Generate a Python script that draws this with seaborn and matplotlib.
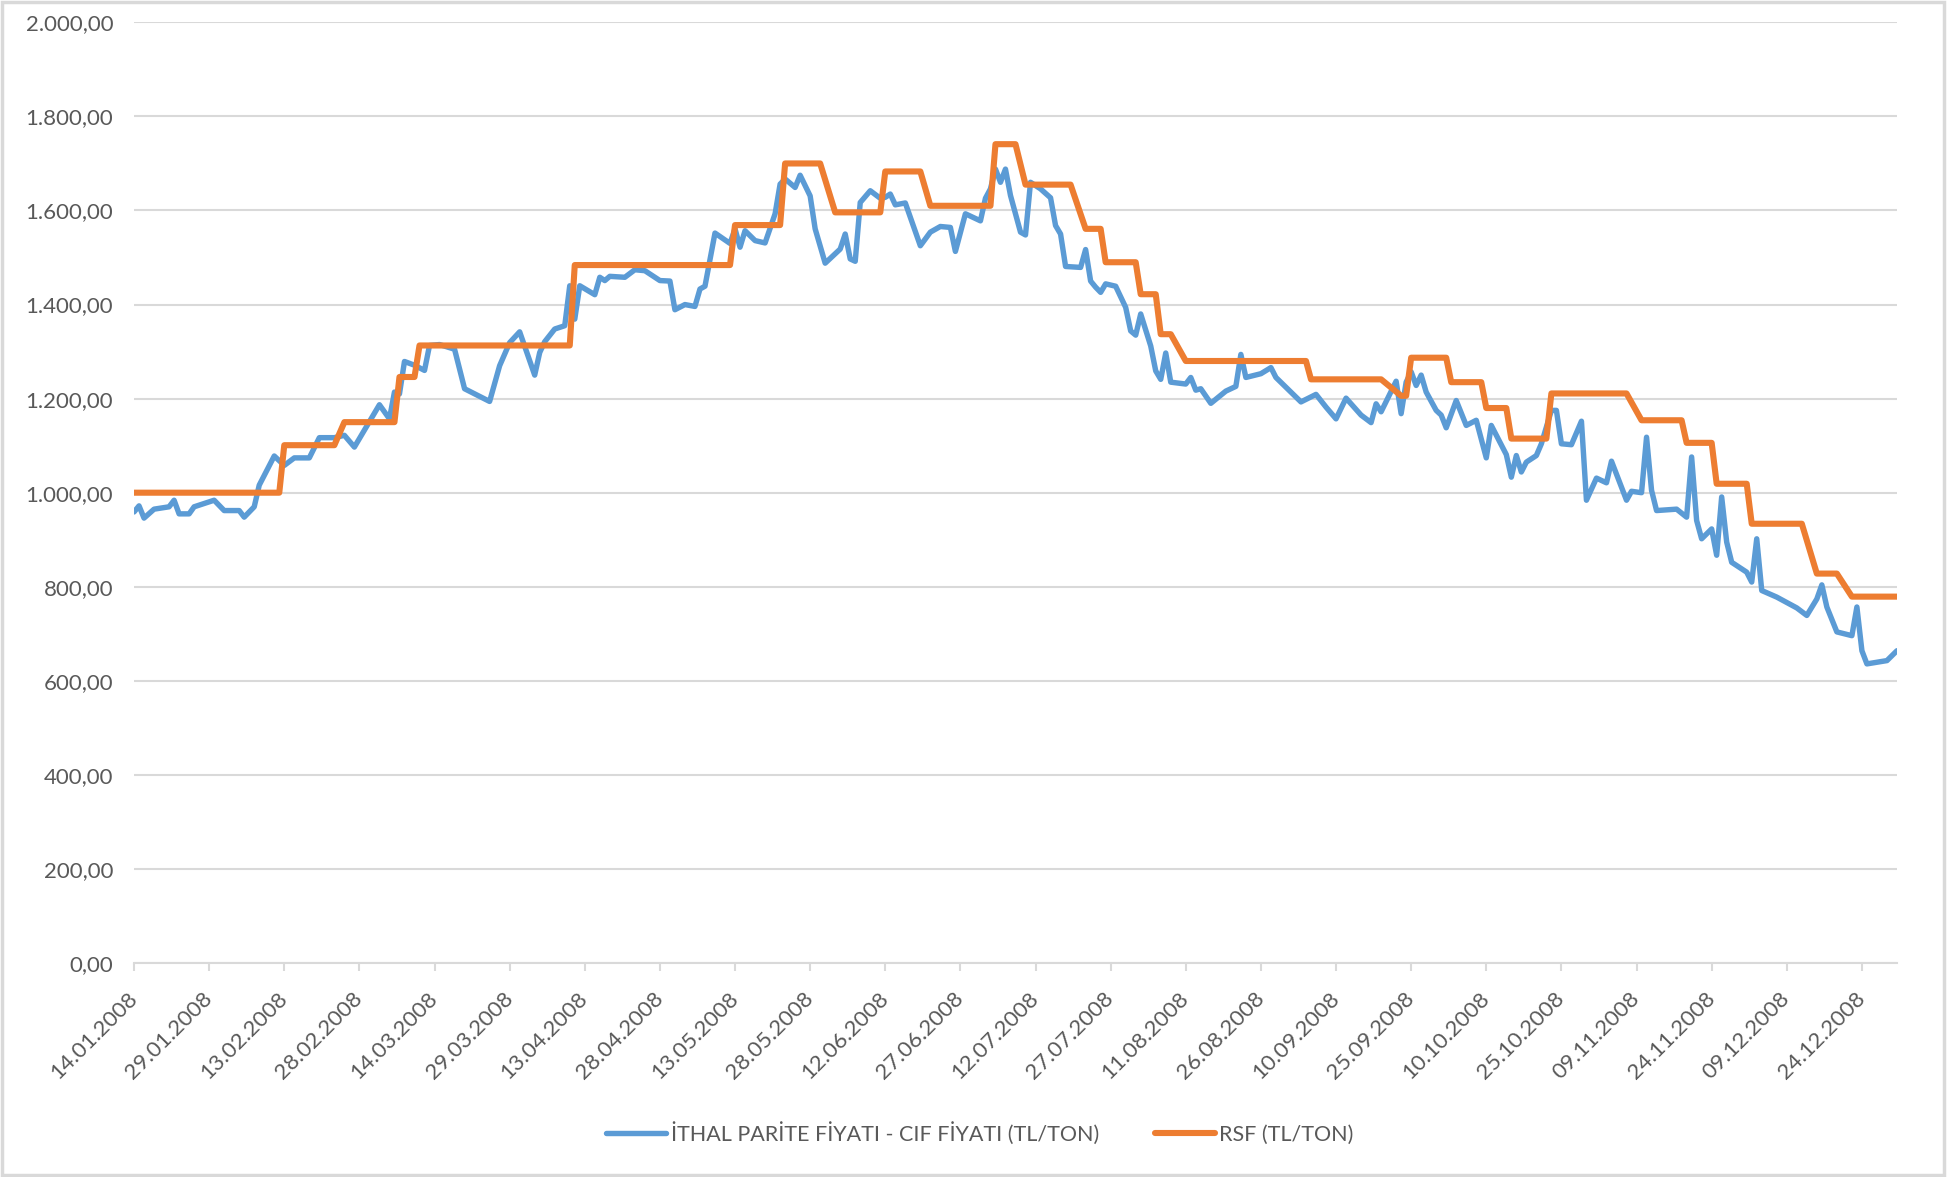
import pandas as pd
import matplotlib.pyplot as plt
import matplotlib.dates as mdates
import matplotlib.ticker as mticker
import seaborn as sns

start_date = '2008-01-14'
end_date = '2008-12-31'

cif_days = [0, 1, 2, 4, 7, 8, 9, 11, 12, 14, 16, 18, 21, 22, 24, 25, 28, 30, 32, 35,
            37, 40, 42, 44, 46, 49, 51, 52, 53, 54, 56, 58, 59, 61, 64, 66, 71, 73, 75, 77,
            80, 81, 82, 84, 86, 87, 88, 89, 92, 93, 94, 95, 98, 100, 102, 105, 107, 108, 110, 112,
            113, 114, 116, 119, 120, 121, 122, 124, 126, 128, 129, 130, 132, 133, 135, 136, 138, 141, 142, 143,
            144, 145, 147, 149, 150, 151, 152, 154, 157, 159, 161, 163, 164, 166, 169, 170, 171, 172, 173, 174,
            175, 177, 178, 179, 181, 183, 184, 185, 186, 189, 190, 191, 192, 193, 194, 196, 198, 199, 200, 201,
            203, 204, 205, 206, 207, 210, 211, 212, 213, 215, 218, 220, 221, 222, 225, 227, 228, 233, 236, 238,
            240, 242, 245, 247, 248, 249, 252, 253, 254, 255, 256, 257, 258, 260, 261, 262, 264, 266, 268, 270,
            271, 274, 275, 276, 277, 278, 280, 281, 283, 284, 285, 287, 289, 290, 292, 294, 295, 298, 299, 301,
            302, 303, 304, 308, 310, 311, 312, 313, 315, 316, 317, 318, 319, 322, 323, 324, 325, 328, 332, 334,
            336, 337, 338, 340, 343, 344, 345, 346, 350, 352]
cif_values = [959, 972, 946, 965, 970, 984, 955, 955, 970, 977, 984, 962, 962, 948, 970, 1016, 1078, 1058, 1074, 1074,
              1117, 1117, 1122, 1097, 1133, 1187, 1157, 1214, 1210, 1279, 1271, 1260, 1313, 1315, 1305, 1221, 1194, 1270, 1319, 1342,
              1250, 1298, 1321, 1348, 1355, 1440, 1369, 1440, 1421, 1458, 1451, 1460, 1458, 1474, 1472, 1451, 1450, 1389, 1400, 1396,
              1433, 1439, 1552, 1530, 1561, 1522, 1557, 1536, 1531, 1593, 1656, 1667, 1649, 1675, 1631, 1561, 1488, 1518, 1550, 1497,
              1492, 1617, 1642, 1626, 1628, 1635, 1612, 1616, 1525, 1554, 1566, 1564, 1513, 1593, 1578, 1626, 1646, 1688, 1660, 1688,
              1632, 1554, 1548, 1660, 1646, 1627, 1568, 1550, 1481, 1479, 1517, 1450, 1437, 1426, 1444, 1439, 1394, 1344, 1335, 1380,
              1312, 1259, 1241, 1297, 1235, 1231, 1245, 1218, 1221, 1190, 1216, 1226, 1294, 1245, 1253, 1266, 1245, 1193, 1209, 1182,
              1157, 1201, 1165, 1149, 1189, 1172, 1237, 1168, 1235, 1257, 1228, 1250, 1214, 1175, 1165, 1138, 1196, 1143, 1154, 1074,
              1143, 1081, 1033, 1079, 1044, 1065, 1079, 1104, 1175, 1175, 1104, 1102, 1152, 984, 1031, 1021, 1067, 984, 1003, 1000,
              1118, 1005, 962, 965, 948, 1076, 941, 902, 923, 867, 991, 895, 852, 831, 810, 902, 792, 778, 755, 739,
              774, 804, 757, 704, 696, 757, 664, 636, 643, 664]

rsf_days = [0, 29, 30, 40, 42, 52, 53, 56, 57, 87, 88, 119, 120, 129, 130, 137, 140, 149, 150, 157,
            159, 171, 172, 176, 178, 187, 190, 193, 194, 200, 201, 204, 205, 207, 210, 234, 235, 249, 253, 254,
            255, 262, 263, 269, 270, 274, 275, 282, 283, 298, 301, 309, 310, 315, 316, 322, 323, 333, 336, 340,
            343, 352]
rsf_values = [1000, 1000, 1101, 1101, 1150, 1150, 1246, 1246, 1313, 1313, 1484, 1484, 1569, 1569, 1700, 1700, 1596, 1596, 1683, 1683,
              1610, 1610, 1741, 1741, 1655, 1655, 1561, 1561, 1490, 1490, 1422, 1422, 1337, 1337, 1280, 1280, 1241, 1241, 1206, 1206,
              1287, 1287, 1235, 1235, 1180, 1180, 1115, 1115, 1211, 1211, 1154, 1154, 1106, 1106, 1019, 1019, 934, 934, 828, 828,
              779, 779]

cif_label = 'İTHAL PARİTE FİYATI - CIF FİYATI (TL/TON)'
rsf_label = 'RSF (TL/TON)'

t0 = pd.Timestamp(start_date)
cif = pd.DataFrame({'date': t0 + pd.to_timedelta(cif_days, unit='D'), 'value': cif_values})
rsf = pd.DataFrame({'date': t0 + pd.to_timedelta(rsf_days, unit='D'), 'value': rsf_values})

sns.set_theme(style="white")
plt.rcParams['font.family'] = ['Lato', 'DejaVu Sans']
text_color = '#595959'
grid_color = '#D9D9D9'

fig = plt.figure(figsize=(19.48, 11.77), dpi=100)
ax = fig.add_axes([0.0688, 0.1818, 0.905, 0.7992])

sns.lineplot(data=cif, x='date', y='value', ax=ax, color='#5B9BD5', linewidth=3.9,
             label=cif_label, legend=False)
sns.lineplot(data=rsf, x='date', y='value', ax=ax, color='#ED7D31', linewidth=4.4,
             label=rsf_label, legend=False)

# Axes
ax.set_ylim(0, 2000)
ax.set_xlim(pd.Timestamp(start_date), pd.Timestamp(end_date))
ax.yaxis.set_major_locator(mticker.MultipleLocator(200))
ax.yaxis.set_major_formatter(mticker.FuncFormatter(
    lambda v, p: f"{v:,.2f}".replace(',', 'X').replace('.', ',').replace('X', '.')))
ax.xaxis.set_major_locator(mticker.FixedLocator(
    mdates.date2num(pd.date_range(start_date, end_date, freq='15D'))))
ax.xaxis.set_major_formatter(mdates.DateFormatter('%d.%m.%Y'))

ax.set_xlabel('')
ax.set_ylabel('')
ax.grid(axis='y', color=grid_color, linewidth=1.5)
ax.set_axisbelow(True)
for side in ['left', 'right', 'top']:
    ax.spines[side].set_visible(False)
ax.spines['bottom'].set_color(grid_color)
ax.spines['bottom'].set_linewidth(1.5)

ax.tick_params(axis='y', length=0, pad=15, labelsize=16, labelcolor=text_color)
ax.tick_params(axis='x', bottom=True, direction='out', length=6, width=1.5, color=grid_color,
               pad=17, labelsize=16, labelcolor=text_color)
for lab in ax.get_xticklabels():
    lab.set_rotation(45)
    lab.set_ha('right')
    lab.set_va('center')
    lab.set_rotation_mode('anchor')

# Legend at the bottom
handles, labels = ax.get_legend_handles_labels()
fig.legend(handles, labels, loc='center', bbox_to_anchor=(0.503, 0.0374), ncol=2,
           frameon=False, fontsize=15.5, labelcolor=text_color, handlelength=2.8,
           handletextpad=0.2, columnspacing=2.6)

# Chart area border
fig.patches.append(plt.Rectangle((0.001, 0.002), 0.997, 0.996, transform=fig.transFigure,
                                 fill=False, edgecolor=grid_color, linewidth=2.5))

plt.savefig('out.png', dpi=100)
